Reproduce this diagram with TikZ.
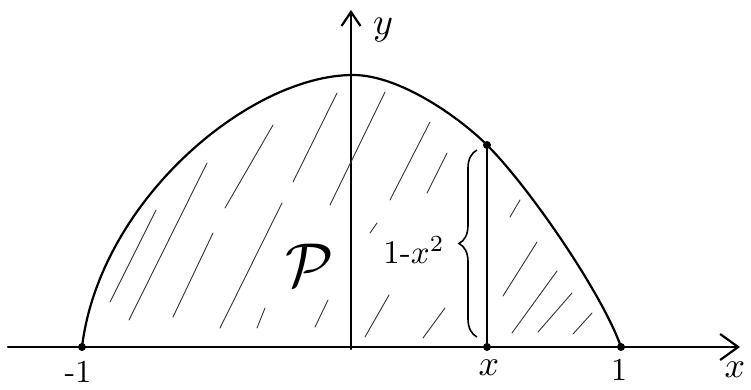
\documentclass[tikz,border=0pt]{standalone}
\usetikzlibrary{arrows.meta,decorations.pathreplacing}
\begin{document}
\begin{tikzpicture}[x=1pt,y=-1pt,
  curve/.style={line width=2.2pt, line join=round, line cap=round},
  hatch/.style={line width=0.9pt, line cap=round, black!80},
  dot/.style={circle, fill=black, inner sep=0pt, minimum size=8pt},
  mlbl/.style={inner sep=0pt}]
\useasboundingbox (0,0) rectangle (751,389);

% axes
\coordinate (xs) at (8,347);
\coordinate (xe) at (740,347);
\coordinate (ys) at (351,349);
\coordinate (ye) at (351,10);
\draw[curve,-{Straight Barb[length=18pt,width=26pt,line width=2.2pt]}] (xs) -- (xe);
\draw[curve,-{Straight Barb[length=14pt,width=19pt,line width=2.2pt]}] (ys) -- (ye);

% hatching
\foreach \a/\b/\c/\d in {
  110/302/156/210, 129/320/207/163, 173/317/213/233, 220/328/282/203,
  225/208/273/125, 257/328/265/308, 293/182/337/93, 330/205/385/92,
  315/327/328/300, 390/200/430/122, 427/193/447/153, 370/233/377/223,
  365/337/389/295, 423/338/445/308, 510/217/520/200, 503/296/537/242,
  512/333/557/271, 538/332/572/293, 573/334/592/313}
  \draw[hatch] (\a,\b) -- (\c,\d);

% points
\node[dot] (m1) at (82,347) {};
\node[dot] (px) at (487,347) {};
\node[dot] (p1) at (621,347) {};
\node[dot] (pt) at (487,145) {};
\coordinate (top) at (353,75);

% parabola
\draw[curve] (m1.center) .. controls (100,200) and (250,75) .. (top)
  .. controls (400,75) and (460,118) .. (pt.center)
  .. controls (530,188) and (603,295) .. (p1.center);
\draw[curve] (px) -- (pt);

% brace
\coordinate (bb) at (477,337);
\coordinate (bt) at (477,150);
\draw[line width=1.6pt, decorate, decoration={brace, amplitude=18pt}] (bb) -- (bt);

% labels
\node[mlbl] (lm1) at (78,372) {\scalebox{3.2}{-1}};
\node[mlbl] (lx) at (489,368) {\scalebox{3.6}{$x$}};
\node[mlbl] (l1) at (619,370) {\scalebox{3.2}{1}};
\node[mlbl] (lxa) at (735,370) {\scalebox{3.6}{$x$}};
\node[mlbl] (ly) at (383,30) {\scalebox{3.8}{$y$}};
\node[mlbl] (lf) at (414,250) {\scalebox{3.3}{1-$x^2$}};
\node[mlbl] (lp) at (310,265) {\scalebox{6.2}{$\mathcal{P}$}};
\end{tikzpicture}
\end{document}
